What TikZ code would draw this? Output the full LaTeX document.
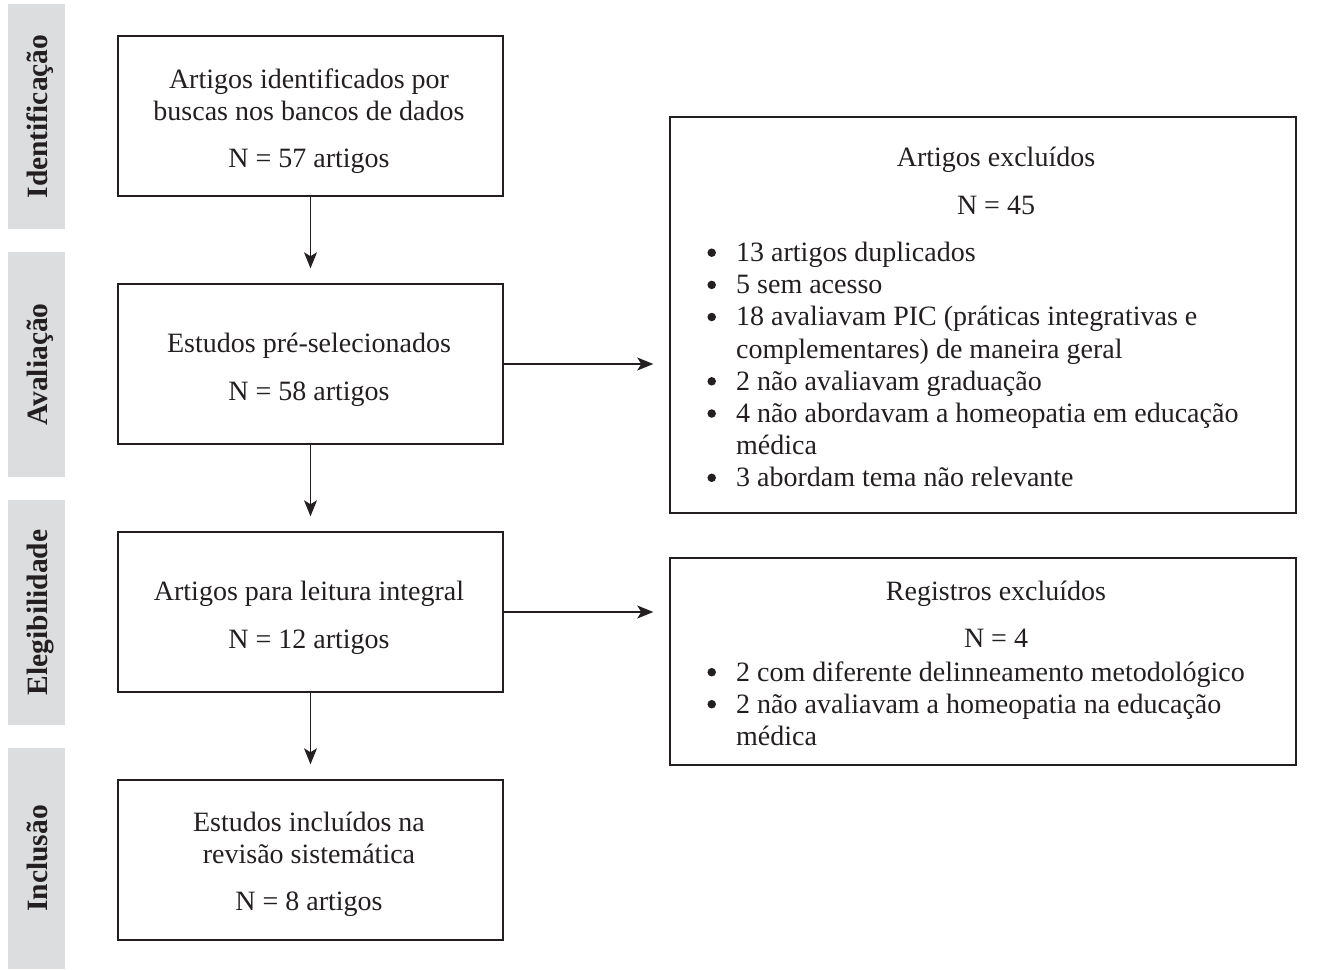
\documentclass[tikz,border=0pt]{standalone}
\usepackage{fontspec}
\setmainfont{Liberation Serif}
\usetikzlibrary{arrows.meta}
\definecolor{ink}{HTML}{231F20}
\definecolor{barfill}{HTML}{DCDDDE}
\tikzset{
  box/.style={draw=ink, line width=1.5pt, minimum width=385pt, inner sep=0pt},
  rbox/.style={draw=ink, line width=1.5pt, minimum width=626pt, inner sep=0pt},
  txt/.style={font=\fontsize{28}{32}\selectfont, text=ink, inner sep=0pt, anchor=base},
  itm/.style={txt, anchor=base west},
  dot/.style={circle, fill=ink, minimum size=8.5pt, inner sep=0pt},
  stagebar/.style={fill=barfill, minimum width=57pt, inner sep=0pt},
  stagelbl/.style={font=\bfseries\fontsize{29.5}{32}\selectfont, text=ink, rotate=90, inner sep=0pt, anchor=base},
  flow/.style={draw=ink, line width=1.3pt, -{Stealth[length=16pt,width=13pt,inset=4pt]}},
}
\begin{document}
\begin{tikzpicture}[x=1pt,y=-1pt]
\useasboundingbox (0,0) rectangle (1325,969);

% stage bars
\node[stagebar, minimum height=225pt] (s1) at (36.5,116.5) {};
\node[stagebar, minimum height=225pt] (s2) at (36.5,364.5) {};
\node[stagebar, minimum height=225pt] (s3) at (36.5,612.5) {};
\node[stagebar, minimum height=221pt] (s4) at (36.5,858.5) {};
\node[stagelbl] (l1) at (47,116.5) {Identificação};
\node[stagelbl] (l2) at (47,364.5) {Avaliação};
\node[stagelbl] (l3) at (47,612.5) {Elegibilidade};
\node[stagelbl] (l4) at (47,858.5) {Inclusão};

% left boxes
\node[box, minimum height=160pt] (b1) at (310.5,116) {};
\node[box, minimum height=160pt] (b2) at (310.5,364) {};
\node[box, minimum height=160pt] (b3) at (310.5,612) {};
\node[box, minimum height=160pt] (b4) at (310.5,860) {};

\node[txt] (b1a) at (309,88) {Artigos identificados por};
\node[txt] (b1b) at (309,120) {buscas nos bancos de dados};
\node[txt] (b1c) at (309,167) {N = 57 artigos};

\node[txt] (b2a) at (309,352) {Estudos pré-selecionados};
\node[txt] (b2b) at (309,400) {N = 58 artigos};

\node[txt] (b3a) at (309,600) {Artigos para leitura integral};
\node[txt] (b3b) at (309,648) {N = 12 artigos};

\node[txt] (b4a) at (309,831) {Estudos incluídos na};
\node[txt] (b4b) at (309,863) {revisão sistemática};
\node[txt] (b4c) at (309,910) {N = 8 artigos};

% right boxes
\node[rbox, minimum height=396pt] (r1) at (983,315) {};
\node[rbox, minimum height=207pt] (r2) at (983,661.5) {};

\node[txt] (r1a) at (996,166.7) {Artigos excluídos};
\node[txt] (r1b) at (996,214) {N = 45};
\node[dot] (d1) at (711.7,252.7) {};
\node[itm] (i1) at (736,261.5) {13 artigos duplicados};
\node[dot] (d2) at (711.7,284.9) {};
\node[itm] (i2) at (736,293.7) {5 sem acesso};
\node[dot] (d3) at (711.7,317) {};
\node[itm] (i3) at (736,325.8) {18 avaliavam PIC (práticas integrativas e};
\node[itm] (i3b) at (736,358) {complementares) de maneira geral};
\node[dot] (d4) at (711.7,381.3) {};
\node[itm] (i4) at (736,390.1) {2 não avaliavam graduação};
\node[dot] (d5) at (711.7,413.5) {};
\node[itm] (i5) at (736,422.3) {4 não abordavam a homeopatia em educação};
\node[itm] (i5b) at (736,454.4) {médica};
\node[dot] (d6) at (711.7,477.8) {};
\node[itm] (i6) at (736,486.6) {3 abordam tema não relevante};

\node[txt] (r2a) at (996,600.5) {Registros excluídos};
\node[txt] (r2b) at (996,647.5) {N = 4};
\node[dot] (e1) at (711.7,672.2) {};
\node[itm] (j1) at (736,681) {2 com diferente delinneamento metodológico};
\node[dot] (e2) at (711.7,704.2) {};
\node[itm] (j2) at (736,713) {2 não avaliavam a homeopatia na educação};
\node[itm] (j2b) at (736,745) {médica};

% connectors
\draw[flow, shorten >=15pt] (b1.south) -- (b2.north);
\draw[flow, shorten >=15pt] (b2.south) -- (b3.north);
\draw[flow, shorten >=15pt] (b3.south) -- (b4.north);
\draw[flow, shorten >=16pt] (b2.east) -- (b2.east -| r1.west);
\draw[flow, shorten >=16pt] (b3.east) -- (b3.east -| r2.west);
\end{tikzpicture}
\end{document}
